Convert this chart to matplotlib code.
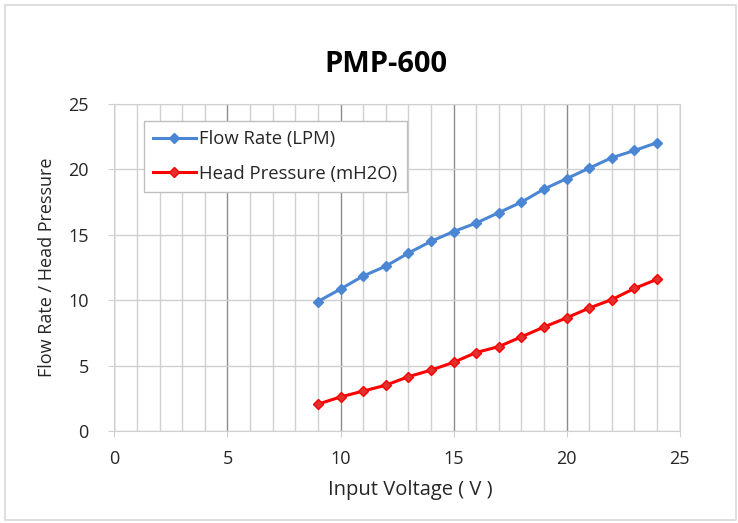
import numpy as np
import matplotlib.pyplot as plt
from matplotlib.ticker import MultipleLocator
from matplotlib.patches import Rectangle

# 데이터
voltage = [9, 10, 11, 12, 13, 14, 15, 16, 17, 18, 19, 20, 21, 22, 23, 24]
flow_rate = [9.9, 10.85, 11.85, 12.6, 13.6, 14.5, 15.25, 15.9, 16.7, 17.5, 18.5, 19.3, 20.1, 20.9, 21.45, 22.05]
head_pressure = [2.05, 2.6, 3.05, 3.5, 4.15, 4.65, 5.25, 6.0, 6.45, 7.2, 7.95, 8.65, 9.4, 10.05, 10.9, 11.6]

plt.rcParams['font.family'] = ['Open Sans', 'DejaVu Sans']

fig = plt.figure(figsize=(7.38, 5.23), dpi=100)
# 바깥 테두리
fig.patches.append(Rectangle((0.007, 0.006), 0.99, 0.984, transform=fig.transFigure,
                             fill=False, edgecolor='#d9d9d9', linewidth=1.2))

ax = fig.add_axes([0.155, 0.176, 0.766, 0.625])
ax.set_xlim(0, 25)
ax.set_ylim(0, 25)
ax.xaxis.set_major_locator(MultipleLocator(5))
ax.xaxis.set_minor_locator(MultipleLocator(1))
ax.yaxis.set_major_locator(MultipleLocator(5))

ax.grid(which='minor', axis='x', color='#d0d0d0', linewidth=1)
ax.grid(which='major', axis='x', color='#8c8c8c', linewidth=1)
ax.grid(which='major', axis='y', color='#d0d0d0', linewidth=1)
ax.set_axisbelow(True)
for s in ax.spines.values():
    s.set_color('#d0d0d0')
ax.tick_params(which='minor', length=0)
ax.tick_params(which='major', length=4, color='#d0d0d0', labelsize=13, labelcolor='#262626')
ax.tick_params(axis='x', pad=10)
ax.tick_params(axis='y', pad=14.5)

ax.plot(voltage, flow_rate, color='#4a86d4', linewidth=2.2, marker='D', markersize=5,
        label='Flow Rate (LPM)')
ax.plot(voltage, head_pressure, color='#ff0000', linewidth=2.2, marker='D', markersize=5,
        markerfacecolor='#e03030', label='Head Pressure (mH2O)')

leg = ax.legend(loc='upper left', bbox_to_anchor=(0.052, 0.948), borderaxespad=0,
                fontsize=13.3, frameon=True, fancybox=False, edgecolor='#bfbfbf',
                framealpha=1, handlelength=2.3, labelspacing=0.9, borderpad=0.5,
                handletextpad=0.2)
for t in leg.get_texts():
    t.set_color('#262626')

fig.text(0.523, 0.877, 'PMP-600', fontsize=21, fontweight='bold', color='#000000',
         ha='center', va='center')
ax.set_xlabel('Input Voltage ( V )', fontsize=14.5, color='#262626')
ax.set_ylabel('Flow Rate / Head Pressure', fontsize=13, color='#262626')
ax.xaxis.set_label_coords(0.5226, -0.18)
ax.yaxis.set_label_coords(-0.119, 0.5)
ax.xaxis.label.set_va('center')
ax.yaxis.label.set_va('center')

fig.savefig('out.png', dpi=100)
